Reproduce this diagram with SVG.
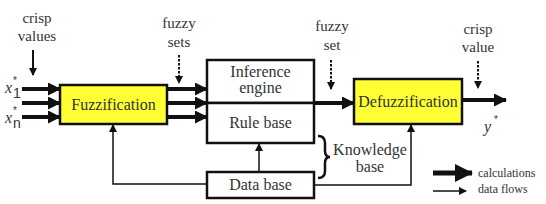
<svg xmlns="http://www.w3.org/2000/svg" width="546" height="204" viewBox="0 0 546 204">
<defs>
<marker id="thick" markerUnits="userSpaceOnUse" markerWidth="13" markerHeight="13" refX="12" refY="6.5" orient="auto"><path d="M0,0 L13,6.5 L0,13 z" fill="#111"/></marker>
<marker id="thin" markerUnits="userSpaceOnUse" markerWidth="8" markerHeight="8" refX="7" refY="4" orient="auto"><path d="M0,0 L8,4 L0,8 z" fill="#111"/></marker>
<marker id="big" markerUnits="userSpaceOnUse" markerWidth="18" markerHeight="18" refX="17" refY="9" orient="auto"><path d="M0,0 L18,9 L0,18 z" fill="#111"/></marker>
</defs>
<style>
text{font-family:"Times New Roman","Liberation Serif",Tinos,"Noto Serif","DejaVu Serif",serif;fill:#333;}
.lbl{font-size:15px;text-anchor:middle;}
.box{font-size:16px;text-anchor:middle;}
.leg{font-size:12px;}
.calc{stroke:#111;stroke-width:4;fill:none;marker-end:url(#thick);}
.flow{stroke:#111;stroke-width:1.5;fill:none;marker-end:url(#thin);}
.dash{stroke:#111;stroke-width:2;stroke-dasharray:2.5,1.5;fill:none;marker-end:url(#thin);}
.frame{stroke:#111;stroke-width:2.5;}
text.sym{font-family:"Liberation Sans",Arial,sans-serif;}
</style>
<g id="connectors">
<line class="calc" x1="22" y1="89" x2="60" y2="89"/>
<line class="calc" x1="22" y1="103" x2="60" y2="103"/>
<line class="calc" x1="22" y1="117" x2="60" y2="117"/>
<line class="calc" x1="167" y1="89" x2="207" y2="89"/>
<line class="calc" x1="167" y1="103" x2="207" y2="103"/>
<line class="calc" x1="167" y1="117" x2="207" y2="117"/>
<line class="calc" x1="314" y1="103" x2="354" y2="103"/>
<line class="calc" x1="462" y1="100" x2="506" y2="100"/>
<line class="flow" x1="259" y1="172" x2="259" y2="144"/>
<polyline class="flow" points="207,184 113,184 113,125"/>
<polyline class="flow" points="314,185 411,185 411,125"/>
<line stroke="#111" stroke-width="2" x1="33" y1="50" x2="33" y2="75" marker-end="url(#thin)"/>
<line class="dash" x1="179" y1="55" x2="179" y2="83"/>
<line class="dash" x1="331" y1="60" x2="331" y2="89"/>
<line class="dash" x1="478" y1="61" x2="478" y2="88"/>
<path d="M318,136 Q325,136 325,143 L325,151 Q325,157 330,157 Q325,157 325,163 L325,171 Q325,178 318,178" stroke="#111" stroke-width="2.5" fill="none"/>
</g>
<g id="crisp-values"><text class="lbl" x="37" y="23">crisp</text><text class="lbl" x="37" y="41">values</text></g>
<g id="fuzzy-sets"><text class="lbl" x="179" y="28">fuzzy</text><text class="lbl" x="179" y="47">sets</text></g>
<g id="fuzzy-set"><text class="lbl" x="332" y="31">fuzzy</text><text class="lbl" x="332" y="50">set</text></g>
<g id="crisp-value"><text class="lbl" x="478" y="34">crisp</text><text class="lbl" x="478" y="52">value</text></g>
<g id="x1"><text x="5" y="93" font-size="16" font-style="italic">x</text><text class="sym" x="13" y="84" font-size="10">*</text><text class="sym" x="13" y="98" font-size="14">1</text></g>
<g id="xn"><text x="5" y="123" font-size="16" font-style="italic">x</text><text class="sym" x="13" y="114" font-size="10">*</text><text class="sym" x="13" y="128" font-size="14">n</text></g>
<g id="fuzzification"><rect x="60" y="85" width="107" height="39" fill="#ffff33" class="frame"/><text class="box" x="113.5" y="110">Fuzzification</text></g>
<g id="inference-engine"><rect x="207" y="60" width="107" height="43" fill="#fff" class="frame"/><text class="box" x="260.5" y="77">Inference</text><text class="box" x="260.5" y="93">engine</text></g>
<g id="rule-base"><rect x="207" y="103" width="107" height="40" fill="#fff" class="frame"/><text class="box" x="260.5" y="128">Rule base</text></g>
<g id="data-base"><rect x="207" y="172" width="107" height="26" fill="#fff" class="frame"/><text class="box" x="260.5" y="190">Data base</text></g>
<g id="defuzzification"><rect x="354" y="79" width="108" height="45" fill="#ffff33" class="frame"/><text class="box" x="408" y="107">Defuzzification</text></g>
<g id="knowledge-base"><text class="box" x="370" y="155">Knowledge</text><text class="box" x="370" y="172">base</text></g>
<g id="y"><text x="484" y="132" font-size="16" font-style="italic">y</text><text class="sym" x="494" y="123" font-size="10">*</text></g>
<g id="legend">
<line stroke="#111" stroke-width="5" x1="433" y1="173" x2="472" y2="173" marker-end="url(#big)"/>
<line class="flow" x1="433" y1="191" x2="466" y2="191"/>
<text class="leg" x="478" y="177">calculations</text>
<text class="leg" x="478" y="193">data flows</text>
</g>
</svg>
